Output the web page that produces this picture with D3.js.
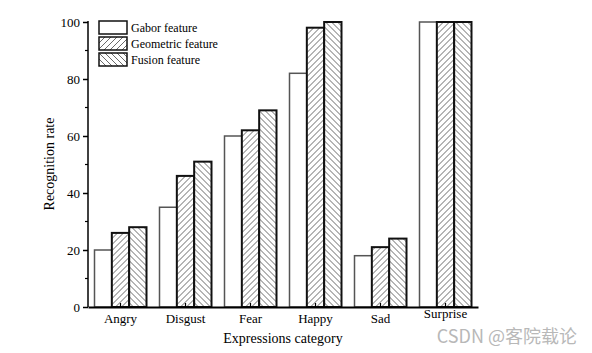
<!DOCTYPE html>
<html lang="en">
<head>
    <meta charset="UTF-8">
    <title>recognition-rate-bars</title>
    <script src="https://cdn.jsdelivr.net/npm/d3@7/dist/d3.min.js"></script>
    <style>
        body { margin: 0; background: #fff; }
        svg { display: block; }
        text { font-family: "Liberation Serif", "Times New Roman", serif; fill: #000; }
    </style>
</head>
<body>
<svg class="chart"></svg>
<script>
    // data
    var categories = ['Angry', 'Disgust', 'Fear', 'Happy', 'Sad', 'Surprise'];
    var seriesNames = ['Gabor feature', 'Geometric feature', 'Fusion feature'];
    var gabor = [20, 35, 60, 82, 18, 100];
    var geometric = [26, 46, 62, 98, 21, 100];
    var fusion = [28, 51, 69, 100, 24, 100];
    var yTicks = [0, 20, 40, 60, 80, 100];
    var yMinorTicks = [10, 30, 50, 70, 90];

    var width = 592, height = 353;
    var margin = { top: 22, right: 114, bottom: 46, left: 88 };
    var innerW = width - margin.left - margin.right;
    var innerH = height - margin.top - margin.bottom;

    var svg = d3.select('.chart').attr('width', width).attr('height', height);

    // hatch patterns
    var defs = svg.append('defs');
    function hatch(id, dir) {
        var p = defs.append('pattern')
            .attr('id', id)
            .attr('patternUnits', 'userSpaceOnUse')
            .attr('width', 6).attr('height', 6);
        p.append('rect').attr('width', 6).attr('height', 6).attr('fill', '#fff');
        var d = dir > 0 ? 'M-1,7 L7,-1 M-1,1 L1,-1 M5,7 L7,5' : 'M-1,-1 L7,7 M5,-1 L7,1 M-1,5 L1,7';
        p.append('path').attr('d', d).attr('stroke', '#6a6a6a').attr('stroke-width', 1);
    }
    hatch('fwd', 1);
    hatch('back', -1);

    var fills = ['#fff', 'url(#fwd)', 'url(#back)'];
    var strokes = ['#555', '#111', '#111'];
    var strokeW = [1.5, 2, 2];

    var x0 = d3.scaleBand().domain(categories).range([0, innerW]).paddingInner(0.2).paddingOuter(0.1);
    var x1 = d3.scaleBand().domain(d3.range(3)).range([0, x0.bandwidth()]);
    var y = d3.scaleLinear().domain([0, 100]).range([innerH, 0]);

    var g = svg.append('g').attr('transform', 'translate(' + margin.left + ',' + margin.top + ')');

    var values = [gabor, geometric, fusion];
    var rows = categories.map(function (c, i) {
        return values.map(function (s, k) { return { cat: c, k: k, v: s[i] }; });
    });

    var groups = g.selectAll('.grp').data(rows).enter().append('g')
        .attr('class', 'grp')
        .attr('transform', function (d) { return 'translate(' + x0(d[0].cat) + ',0)'; });

    groups.selectAll('rect').data(function (d) { return d; }).enter().append('rect')
        .attr('x', function (d) { return x1(d.k); })
        .attr('y', function (d) { return y(d.v); })
        .attr('width', x1.bandwidth())
        .attr('height', function (d) { return innerH - y(d.v); })
        .attr('fill', function (d) { return fills[d.k]; })
        .attr('stroke', function (d) { return strokes[d.k]; })
        .attr('stroke-width', function (d) { return strokeW[d.k]; });

    // y axis
    var yAxis = d3.axisLeft(y).tickValues(yTicks).tickSize(5).tickPadding(3).tickSizeOuter(0);
    var ya = g.append('g').attr('class', 'y axis').call(yAxis);
    ya.select('.domain').attr('stroke', '#000').attr('stroke-width', 1.5).attr('d', 'M0,' + innerH + 'V-1');
    ya.selectAll('line').attr('stroke-width', 1.5);
    ya.selectAll('text').style('font-size', '13px').style('font-family', '"Liberation Serif", serif');
    ya.selectAll('.minor').data(yMinorTicks).enter().append('line')
        .attr('class', 'minor')
        .attr('x1', -3).attr('x2', 0)
        .attr('y1', function (d) { return y(d); }).attr('y2', function (d) { return y(d); })
        .attr('stroke', '#000').attr('stroke-width', 1.2);

    // x axis
    var xAxis = d3.axisBottom(x0).tickSize(-4).tickPadding(7).tickSizeOuter(0);
    var xa = g.append('g').attr('class', 'x axis').attr('transform', 'translate(0,' + innerH + ')').call(xAxis);
    xa.select('.domain').attr('stroke', '#000').attr('stroke-width', 2);
    xa.selectAll('line').attr('stroke-width', 1.2);
    xa.selectAll('text').style('font-size', '13px').style('font-family', '"Liberation Serif", serif');
    // the last label sits a little higher in the original
    xa.selectAll('text').filter(function (d) { return d === 'Surprise'; }).attr('y', 2);

    // axis titles
    svg.append('text')
        .attr('x', margin.left + innerW / 2)
        .attr('y', 343)
        .attr('text-anchor', 'middle')
        .style('font-size', '14px')
        .text('Expressions category');

    svg.append('text')
        .attr('transform', 'translate(54,164) rotate(-90)')
        .attr('text-anchor', 'middle')
        .style('font-size', '14px')
        .text('Recognition rate');

    // legend
    var legend = svg.append('g').attr('transform', 'translate(99,21)');
    var li = legend.selectAll('g').data(seriesNames).enter().append('g')
        .attr('transform', function (d, i) { return 'translate(0,' + (i * 16) + ')'; });
    li.append('rect')
        .attr('width', 28).attr('height', 13)
        .attr('fill', function (d, i) { return fills[i]; })
        .attr('stroke', '#111')
        .attr('stroke-width', 1.5);
    li.append('text')
        .attr('x', 32).attr('y', 11)
        .style('font-size', '12px')
        .text(function (d) { return d; });

    // watermark
    svg.append('text')
        .attr('x', 577).attr('y', 343)
        .attr('text-anchor', 'end')
        .style('font-family', '"Noto Sans CJK SC", "Noto Sans", sans-serif')
        .style('font-size', '18px')
        .style('fill', '#b8b8b8')
        .text('CSDN @客院载论');
</script>
</body>
</html>
